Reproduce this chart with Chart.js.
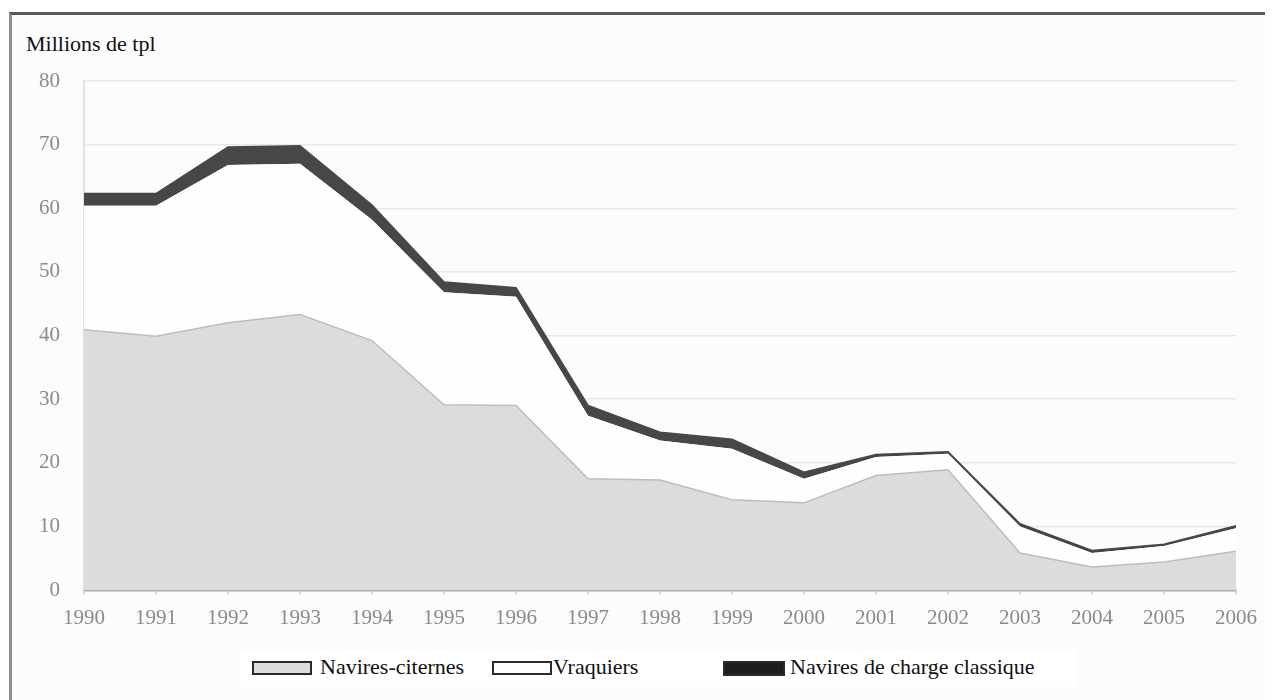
<!DOCTYPE html>
<html lang="fr">
<head>
<meta charset="utf-8">
<title>Millions de tpl</title>
<script src="https://cdn.jsdelivr.net/npm/chart.js@4/dist/chart.umd.min.js"></script>
<style>
  html, body { margin: 0; padding: 0; background: #ffffff; }
  body { width: 1276px; height: 700px; position: relative; overflow: hidden;
         font-family: "Liberation Serif", "DejaVu Serif", serif; }
  #frame { position: absolute; left: 9px; top: 12px; width: 1256px; height: 700px;
           background: #fcfcfc; border-top: 3px solid #595959; border-left: 3px solid #8c8c8c;
           box-sizing: border-box; }
  #unit { position: absolute; left: 26px; top: 31px; font-size: 22px; color: #111; line-height: 26px; }
  #chart { position: absolute; left: 0; top: 0; }
  #legend { position: absolute; left: 240px; top: 650px; width: 837px; height: 37px; background: #ffffff; }
  .item { position: absolute; top: 0; left: 0; height: 37px; font-size: 22px; color: #111; }
  .item .box { position: absolute; top: 11px; width: 60px; height: 14px; box-sizing: border-box; border: 2px solid #2a2a2a; }
  .item .lbl { position: absolute; top: 5px; white-space: nowrap; line-height: 24px; }
</style>
</head>
<body>
<div id="frame"></div>
<div id="unit">Millions de tpl</div>
<canvas id="chart" width="1276" height="700"></canvas>
<div id="legend"></div>
<script>
// Années
const years = ['1990','1991','1992','1993','1994','1995','1996','1997','1998',
               '1999','2000','2001','2002','2003','2004','2005','2006'];

// Tonnage (millions de tpl), séries empilées
const navCiternesData = [40.9, 39.9, 42.0, 43.3, 39.2, 29.1, 29.0, 17.5, 17.3, 14.2, 13.7, 18.0, 18.9, 5.8, 3.6, 4.4, 6.1];
const vraquiersData    = [19.5, 20.5, 24.8, 23.7, 19.0, 17.7, 17.1, 9.9, 6.2, 8.0, 3.8, 2.9, 2.5, 4.2, 2.2, 2.5, 3.6];
const chargeClassData  = [1.9, 1.9, 2.8, 2.8, 2.3, 1.6, 1.4, 1.6, 1.3, 1.5, 1.0, 0.4, 0.3, 0.4, 0.4, 0.3, 0.4];

const seriesNames = ['Navires-citernes', 'Vraquiers', 'Navires de charge classique'];

// Graduations de l'axe vertical
const yMin = 0, yMax = 80, yStep = 10;

const serif = '"Liberation Serif", "DejaVu Serif", serif';
const tickFont = { family: serif, size: 21 };

new Chart(document.getElementById('chart'), {
  type: 'line',
  data: {
    labels: years,
    datasets: [
      { label: seriesNames[0], data: navCiternesData, fill: 'origin',
        backgroundColor: '#dcdcde', borderColor: '#bdbdbd', borderWidth: 1.5 },
      { label: seriesNames[1], data: vraquiersData, fill: '-1',
        backgroundColor: '#fefefe', borderColor: 'rgba(0,0,0,0)', borderWidth: 0 },
      { label: seriesNames[2], data: chargeClassData, fill: '-1',
        backgroundColor: '#474749', borderColor: '#474749', borderWidth: 1.6 }
    ]
  },
  options: {
    responsive: false,
    animation: false,
    events: [],
    elements: { line: { tension: 0 }, point: { radius: 0 } },
    layout: { padding: { left: 24, top: 81, right: 40, bottom: 60 } },
    plugins: { legend: { display: false }, tooltip: { enabled: false } },
    scales: {
      x: {
        grid: { drawOnChartArea: false, drawTicks: true, tickLength: 5, color: '#d6d6d6', lineWidth: 1.5 },
        border: { display: true, color: '#ababab', width: 2.5 },
        ticks: { font: tickFont, color: '#8a8a8a', padding: 11, maxRotation: 0, autoSkip: false },
        afterFit: s => { s.height = 50; }
      },
      y: {
        stacked: true,
        min: yMin, max: yMax,
        grid: { drawTicks: false, color: '#e8e8e8', lineWidth: 1.5 },
        border: { display: true, color: '#e2e2e2', width: 2 },
        ticks: { stepSize: yStep, font: tickFont, color: '#8a8a8a', padding: 24 },
        afterFit: s => { s.width = 60; }
      }
    }
  }
});

// Légende
const legendItems = [
  { name: seriesNames[0], box: 12, text: 80, fill: '#dcdcde', w: 60, h: 14 },
  { name: seriesNames[1], box: 252, text: 313, fill: '#ffffff', w: 60, h: 14 },
  { name: seriesNames[2], box: 483, text: 550, fill: '#1e1e1e', w: 62, h: 15 }
];
const legend = document.getElementById('legend');
legendItems.forEach(it => {
  const el = document.createElement('div');
  el.className = 'item';
  const box = document.createElement('div');
  box.className = 'box';
  box.style.left = it.box + 'px';
  box.style.width = it.w + 'px';
  box.style.height = it.h + 'px';
  box.style.background = it.fill;
  const lbl = document.createElement('div');
  lbl.className = 'lbl';
  lbl.style.left = it.text + 'px';
  lbl.textContent = it.name;
  el.appendChild(box);
  el.appendChild(lbl);
  legend.appendChild(el);
});
</script>
</body>
</html>
